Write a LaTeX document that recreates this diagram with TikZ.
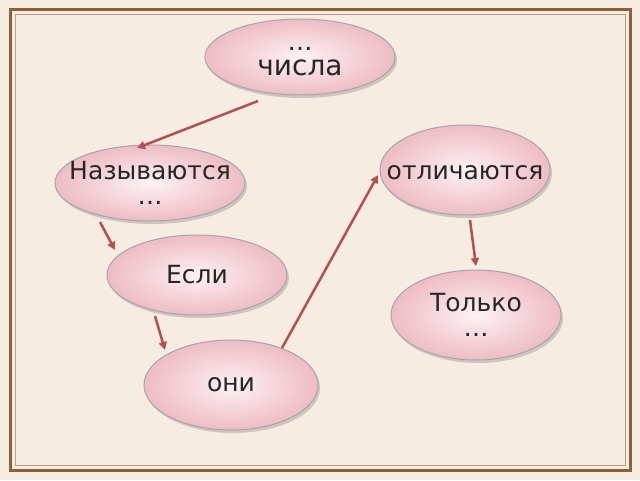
\documentclass[tikz,border=0pt]{standalone}
\usepackage{fontspec}
\setmainfont{DejaVu Sans}
\usetikzlibrary{shapes.geometric,shadows,arrows.meta}
\definecolor{bg}{RGB}{246,236,226}
\definecolor{frm}{RGB}{140,96,60}
\definecolor{pinkA}{RGB}{253,242,244}
\definecolor{pinkB}{RGB}{238,188,196}
\definecolor{arr}{RGB}{180,80,80}
\tikzset{
  bub/.style={ellipse, draw=gray!70, line width=1pt, inner color=pinkA, outer color=pinkB,
    drop shadow={shadow xshift=2pt,shadow yshift=-3pt,opacity=0.35}, inner sep=0pt},
  txt/.style={font=\fontsize{25}{25}\selectfont, text=black!85, align=center, inner sep=0pt},
  con/.style={draw=arr, line width=2.5pt, -{Triangle[length=8pt,width=8pt]}}
}
\begin{document}
\begin{tikzpicture}[x=1pt,y=-1pt]
\useasboundingbox (0,0) rectangle (640,480);
\fill[bg] (0,0) rectangle (640,480);
\draw[frm, line width=3pt] (10,9) rectangle (630,470);
\draw[frm!60, line width=1pt] (15,14) rectangle (625,465);
\node[bub, minimum width=190pt, minimum height=76pt] (a) at (300,57) {};
\node[bub, minimum width=170pt, minimum height=90pt] (b) at (465,170) {};
\node[bub, minimum width=190pt, minimum height=76pt] (c) at (150,183) {};
\node[bub, minimum width=180pt, minimum height=80pt] (d) at (197,275) {};
\node[bub, minimum width=170pt, minimum height=90pt] (e) at (476,315) {};
\node[bub, minimum width=174pt, minimum height=90pt] (f) at (231,385) {};
\node[txt] (ta) at ([yshift=-5pt]a) {…\\\fontsize{28}{28}\selectfont числа};
\node[txt] (tb) at ([yshift=-3pt]b) {отличаются};
\node[txt] (tc) at (c) {Называются\\…};
\node[txt] (td) at (d) {Если};
\node[txt] (te) at (e) {Только\\…};
\node[txt] (tf) at (f) {они};
\coordinate (a1) at (258,101); \coordinate (c0) at (137,148);
\coordinate (c1) at (100,222); \coordinate (d0) at (115,250);
\coordinate (d1) at (155,316); \coordinate (f0) at (165,350);
\coordinate (f1) at (282,348); \coordinate (b0) at (378,175);
\coordinate (b1) at (470,220); \coordinate (e0) at (476,266);
\draw[con] (a1) -- (c0);
\draw[con] (c1) -- (d0);
\draw[con] (d1) -- (f0);
\draw[con] (f1) -- (b0);
\draw[con] (b1) -- (e0);
\end{tikzpicture}
\end{document}
